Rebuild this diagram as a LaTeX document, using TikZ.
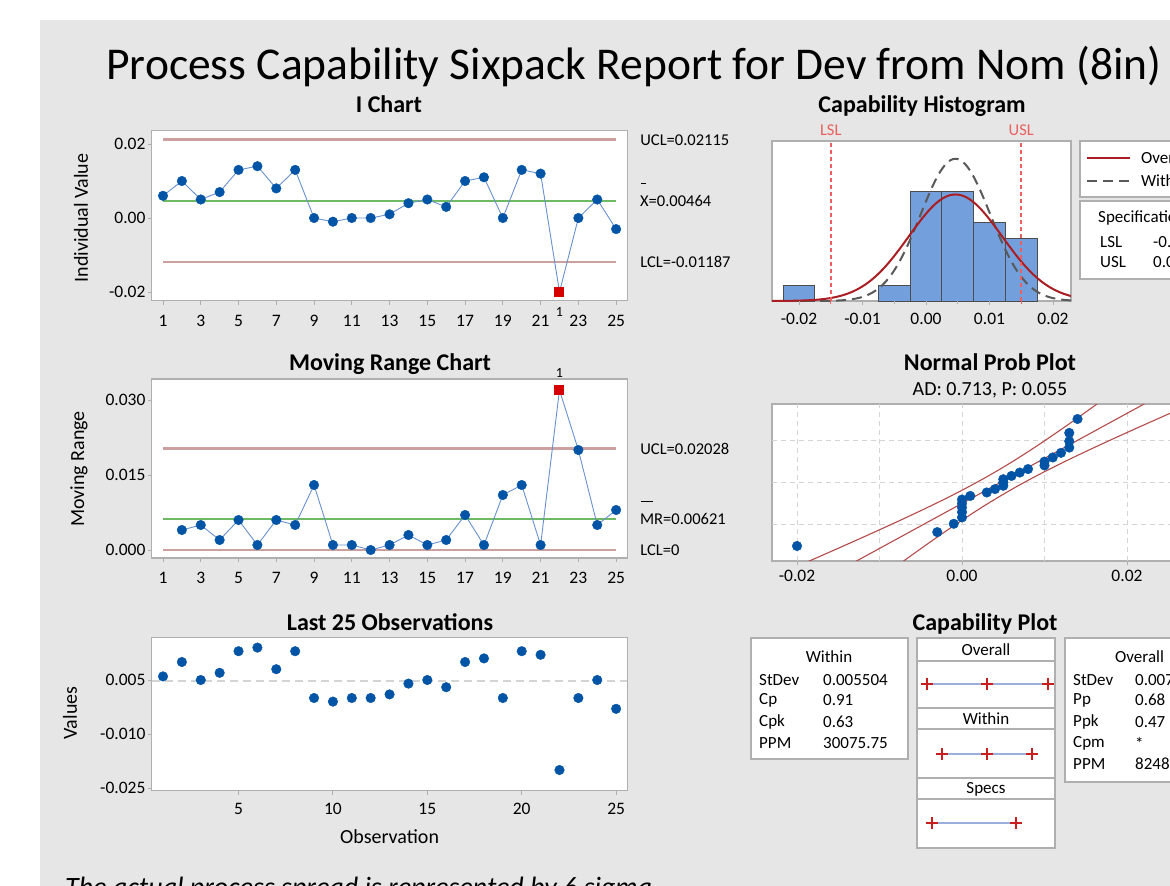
\documentclass[tikz,border=0pt]{standalone}
\usepackage{fontspec}
\setmainfont{Carlito}
\usepackage{tikz}
\usetikzlibrary{positioning}

\definecolor{bggray}{RGB}{230,230,230}
\definecolor{framegray}{RGB}{175,175,175}
\definecolor{ptblue}{RGB}{0,84,166}
\definecolor{joinblue}{RGB}{105,145,205}
\definecolor{limred}{RGB}{205,160,160}
\definecolor{cengreen}{RGB}{110,185,100}
\definecolor{flagred}{RGB}{215,0,0}
\definecolor{barblue}{RGB}{115,160,220}
\definecolor{curvered}{RGB}{170,30,35}
\definecolor{specred}{RGB}{235,95,95}
\definecolor{fitred}{RGB}{180,75,75}
\definecolor{gridgray}{RGB}{212,212,212}
\definecolor{capblue}{RGB}{155,175,220}
\definecolor{plusred}{RGB}{200,30,30}

\tikzset{
  plotbox/.style={draw=framegray, fill=white, line width=1.2pt},
  axtick/.style={framegray, line width=1pt},
  limline/.style={limred, line width=2.5pt},
  cenline/.style={cengreen, line width=2pt},
  joinline/.style={joinblue, line width=0.9pt},
  dot/.style={mark=*, mark size=4.8pt, mark options={ptblue, fill=ptblue, solid, line width=0.4pt}},
  flag/.style={fill=flagred, minimum size=10pt, inner sep=0pt},
  flagno/.style={font=\fontsize{14}{16}\selectfont, inner sep=0pt},
  ticklab/.style={font=\fontsize{17.5}{19}\selectfont, inner sep=0pt},
  axtitle/.style={font=\fontsize{20}{22}\selectfont, inner sep=0pt},
  ptitle/.style={font=\fontsize{24}{28}\selectfont\bfseries, inner sep=0pt, anchor=base},
  limtext/.style={font=\fontsize{16.5}{18}\selectfont, text=black, inner sep=0pt},
  tabtext/.style={font=\fontsize{17}{19}\selectfont, inner sep=0pt, anchor=west},
  bar/.style={draw=black!70, fill=barblue, line width=1pt},
  ovcurve/.style={curvered, line width=2pt},
  wicurve/.style={black!65, line width=2pt, dash pattern=on 10pt off 6pt},
  specline/.style={specred, line width=1.6pt, dash pattern=on 4pt off 3pt},
  gridline/.style={gridgray, line width=1pt, dash pattern=on 5pt off 4pt},
  fitline/.style={fitred, line width=1.1pt},
  capline/.style={capblue, line width=2.5pt},
  plus/.style={mark=+, mark size=6pt, mark options={plusred, line width=1.5pt}},
}

\begin{document}
\begin{tikzpicture}[x=1pt,y=-1pt]
\useasboundingbox (0,0) rectangle (1170,886);
\clip (0,0) rectangle (1170,886);
\fill[bggray] (40,20) rectangle (1170,886);

\node[font=\fontsize{45.5}{50}\selectfont, anchor=base, inner sep=0pt] (title) at (634,79) {Process Capability Sixpack Report for Dev from Nom (8in)};

%I chart
\node[ptitle] (ititle) at (389,112) {I Chart};
\node[axtitle, rotate=90] (iylab) at (81,218) {Individual Value};
\begin{scope}[shift={(144.12,218)}, x=18.88pt, y=3.7pt]
\draw[plotbox] (0.4,-22.35) rectangle (25.6,23.6);
\foreach \v/\t [count=\k] in {20/0.02,0/0.00,-20/-0.02}{
\draw[axtick] (0.4,\v) -- +(-4pt,0pt);
\node[ticklab, left=6pt] (iy\k) at (0.4,\v) {\t};}
\foreach \i in {1,3,...,25}{
\draw[axtick] (\i,-22.35) -- +(0pt,-4pt);
\node[ticklab, below=14pt] (ix\i) at (\i,-22.35) {\i};}
\draw[limline] (1,21.15) -- (25,21.15) node[limtext, right=23pt] (iucl) {UCL=0.02115};
\draw[limline] (1,-11.87) -- (25,-11.87) node[limtext, right=23pt] (ilcl) {LCL=-0.01187};
\draw[cenline] (1,4.64) -- (25,4.64) node[limtext, right=23pt] (ixbar) {\rlap{\smash{\raisebox{22.5pt}{\kern1pt\rule{5pt}{1.2pt}}}}X=0.00464};
\draw[joinline] plot[dot, mark indices={1,...,21,23,24,25}] coordinates {(1,6) (2,10) (3,5) (4,7) (5,13) (6,14) (7,8) (8,13) (9,0) (10,-1) (11,0) (12,0) (13,1) (14,4) (15,5) (16,3) (17,10) (18,11) (19,0) (20,13) (21,12) (22,-20) (23,0) (24,5) (25,-3)};
\node[flag] (iflag) at (22,-20) {};
\node[flagno, below=10pt of iflag] (iflagno) {1};
\end{scope}

%moving range chart
\node[ptitle] (mtitle) at (390,370) {Moving Range Chart};
\node[axtitle, rotate=90] (mylab) at (79,469) {Moving Range};
\begin{scope}[shift={(144.12,550)}, x=18.88pt, y=5pt]
\draw[plotbox] (0.4,-1.6) rectangle (25.6,34.2);
\foreach \v/\t [count=\k] in {30/0.030,15/0.015,0/0.000}{
\draw[axtick] (0.4,\v) -- +(-4pt,0pt);
\node[ticklab, left=6pt] (my\k) at (0.4,\v) {\t};}
\foreach \i in {1,3,...,25}{
\draw[axtick] (\i,-1.6) -- +(0pt,-4pt);
\node[ticklab, below=14pt] (mx\i) at (\i,-1.6) {\i};}
\draw[limline] (1,20.28) -- (25,20.28) node[limtext, right=23pt] (mucl) {UCL=0.02028};
\draw[limline] (1,0) -- (25,0) node[limtext, right=23pt] (mlcl) {LCL=0};
\draw[cenline] (1,6.21) -- (25,6.21) node[limtext, right=23pt] (mrbar) {\rlap{\smash{\raisebox{22pt}{\kern1pt\rule{12pt}{1.2pt}}}}MR=0.00621};
\draw[joinline] plot[dot, mark indices={1,...,20,22,23,24}] coordinates {(2,4) (3,5) (4,2) (5,6) (6,1) (7,6) (8,5) (9,13) (10,1) (11,1) (12,0) (13,1) (14,3) (15,1) (16,2) (17,7) (18,1) (19,11) (20,13) (21,1) (22,32) (23,20) (24,5) (25,8)};
\node[flag] (mflag) at (22,32) {};
\node[flagno, above=7pt of mflag] (mflagno) {1};
\end{scope}

%last 25 observations
\node[ptitle] (ltitle) at (390,630) {Last 25 Observations};
\node[axtitle, rotate=90] (lylab) at (70,713) {Values};
\begin{scope}[shift={(144.12,698)}, x=18.88pt, y=3.6pt]
\draw[plotbox] (0.4,-25.8) rectangle (25.6,16.7);
\foreach \v/\t [count=\k] in {5/0.005,-10/-0.010,-25/-0.025}{
\draw[axtick] (0.4,\v) -- +(-4pt,0pt);
\node[ticklab, left=6pt] (ly\k) at (0.4,\v) {\t};}
\foreach \i in {5,10,...,25}{
\draw[axtick] (\i,-25.8) -- +(0pt,-4pt);
\node[ticklab, below=12pt] (lx\i) at (\i,-25.8) {\i};}
\draw[gridgray, line width=2pt, dash pattern=on 8pt off 5pt] (0.4,4.64) -- (25.6,4.64);
\path plot[only marks, dot] coordinates {(1,6) (2,10) (3,5) (4,7) (5,13) (6,14) (7,8) (8,13) (9,0) (10,-1) (11,0) (12,0) (13,1) (14,4) (15,5) (16,3) (17,10) (18,11) (19,0) (20,13) (21,12) (22,-20) (23,0) (24,5) (25,-3)};
\node[axtitle] (lxlab) at (13,-38.6) {Observation};
\end{scope}

\node[font=\fontsize{28}{32}\selectfont\itshape, anchor=base west, inner sep=0pt] (note) at (65,896) {The actual process spread is represented by 6 sigma.};

%capability histogram
\node[ptitle] (htitle) at (922,112) {Capability Histogram};
\begin{scope}[shift={(926,301)}, x=6.35pt, y=15.7pt]
\draw[plotbox] (-24.25,0) rectangle (22.83,10.19);
\foreach \a/\h in {-22.5/1,-7.5/1,-2.5/7,2.5/7,7.5/5,12.5/4}
\draw[bar] (\a,0) rectangle +(5,\h);
\begin{scope}
\clip (-24.25,0) rectangle (22.83,10.19);
\draw[wicurve, domain=-24.25:22.83, samples=120] plot (\x, {9.06*exp(-((\x-4.64)^2)/(2*5.504^2))});
\draw[ovcurve, domain=-24.25:22.83, samples=120] plot (\x, {6.785*exp(-((\x-4.64)^2)/(2*7.35^2))});
\end{scope}
\draw[specline] (-15,0) -- (-15,10.19) node[limtext, text=specred, above=5pt] (lsl) {LSL};
\draw[specline] (15,0) -- (15,10.19) node[limtext, text=specred, above=5pt] (usl) {USL};
\foreach \g/\t [count=\k] in {-20/-0.02,-10/-0.01,0/0.00,10/0.01,20/0.02}{
\draw[axtick] (\g,0) -- +(0pt,-4pt);
\node[ticklab, below=12pt] (hx\k) at (\g,0) {\t};}
\foreach \g in {-5,5}
\draw[axtick] (\g,0) -- +(0pt,-3pt);
\foreach \g in {-15,15}
\draw[specred, line width=1pt] (\g,0) -- +(0pt,-3pt);
\end{scope}
%legend
\draw[plotbox] (1080,141) rectangle (1190,197);
\draw[ovcurve] (1087,158) -- (1130,158) node[tabtext, text=black, right=10pt] (lgov) {Overall};
\draw[wicurve] (1087,181) -- (1130,181) node[tabtext, text=black, right=10pt] (lgwi) {Within};
\draw[plotbox] (1080,201) rectangle (1190,279);
\node[tabtext] (spech) at (1098,218) {Specifications};
\node[tabtext] (lslk) at (1100,242) {LSL};
\node[tabtext] (lslv) at (1153,242) {-0.015};
\node[tabtext] (uslk) at (1100,262) {USL};
\node[tabtext] (uslv) at (1153,262) {0.015};

%normal probability plot
\node[ptitle] (ntitle) at (990,370) {Normal Prob Plot};
\node[font=\fontsize{20}{22}\selectfont, anchor=base, inner sep=0pt] (nsub) at (990,395) {AD: 0.713, P: 0.055};
\begin{scope}[shift={(962,482.5)}, x=8.25pt, y=33.1pt]
\draw[plotbox] (-23.03,-2.37) rectangle (30,2.37);
\foreach \g in {-20,-10,0,10,20}
\draw[gridline] (\g,-2.37) -- (\g,2.37);
\foreach \g in {-1.2816,0,1.2816}
\draw[gridline] (-23.03,\g) -- (30,\g);
\begin{scope}
\clip (-23.03,-2.37) rectangle (30,2.37);
\draw[fitline, domain=-2.7:2.7] plot ({4.64+7.35*\x}, \x);
\draw[fitline, domain=-2.7:2.7, samples=50] plot ({4.64+7.35*\x-14.41*sqrt(0.04+(\x)*(\x)/48)}, \x);
\draw[fitline, domain=-2.7:2.7, samples=50] plot ({4.64+7.35*\x+14.41*sqrt(0.04+(\x)*(\x)/48)}, \x);
\end{scope}
\path plot[only marks, dot] coordinates {(-20,-1.918) (-3,-1.499) (-1,-1.247) (0,-1.055) (0,-0.896) (0,-0.757) (0,-0.632) (0,-0.515) (1,-0.406) (3,-0.301) (4,-0.199) (5,-0.099) (5,0) (5,0.099) (6,0.199) (7,0.301) (8,0.406) (10,0.515) (10,0.632) (11,0.757) (12,0.896) (13,1.055) (13,1.247) (13,1.499) (14,1.918)};
\foreach \g/\t [count=\k] in {-20/-0.02,0/0.00,20/0.02}{
\draw[axtick] (\g,-2.37) -- +(0pt,-4pt);
\node[ticklab, below=9pt] (nx\k) at (\g,-2.37) {\t};}
\end{scope}

%capability plot
\node[ptitle] (ctitle) at (985,630) {Capability Plot};
\draw[plotbox] (751,638) rectangle (908,759);
\node[tabtext, anchor=center] (wth) at (829,657) {Within};
\foreach \l/\v/\y [count=\k] in {StDev/0.005504/680,Cp/0.91/700,Cpk/0.63/722,PPM/30075.75/743}{
\node[tabtext] (wl\k) at (759,\y) {\l};
\node[tabtext] (wv\k) at (823,\y) {\v};}
\draw[plotbox] (917,638) rectangle (1055,848);
\foreach \y in {661,708,729,778,799}
\draw[framegray, line width=1.2pt] (917,\y) -- (1055,\y);
\node[tabtext, anchor=center] (cov) at (986,650) {Overall};
\node[tabtext, anchor=center] (cwi) at (986,719) {Within};
\node[tabtext, anchor=center] (csp) at (986,789) {Specs};
\draw[capline] plot[plus] coordinates {(927,684) (987,684) (1048,684)};
\draw[capline] plot[plus] coordinates {(942,754) (987,754) (1032,754)};
\draw[capline] plot[plus] coordinates {(932,823) (1016,823)};
\draw[plotbox] (1065,638) rectangle (1190,782);
\node[tabtext] (oth) at (1115,657) {Overall};
\foreach \l/\v/\y [count=\k] in {StDev/0.007/680,Pp/0.68/700,Ppk/0.47/722,Cpm/*/743,PPM/8248/764}{
\node[tabtext] (ol\k) at (1073,\y) {\l};
\node[tabtext] (ov\k) at (1135,\y) {\v};}

\end{tikzpicture}
\end{document}
